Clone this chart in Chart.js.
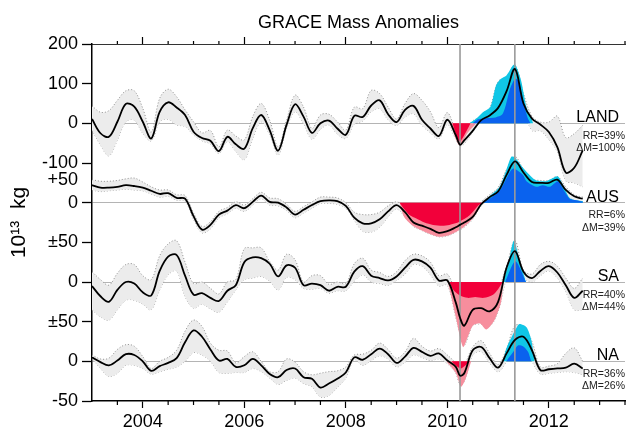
<!DOCTYPE html>
<html><head><meta charset="utf-8">
<script src="https://cdn.jsdelivr.net/npm/chart.js@4.4.1/dist/chart.umd.min.js"></script>
<style>html,body{margin:0;padding:0;background:#fff}</style>
</head><body>
<canvas id="c" width="628" height="431"></canvas>
<script>
// ---- sample dates (decimal years) ----
const dates = [2003.000,2003.167,2003.333,2003.500,2003.667,2003.833,
 2004.000,2004.167,2004.333,2004.500,2004.667,2004.833,
 2005.000,2005.167,2005.333,2005.500,2005.667,2005.833,
 2006.000,2006.167,2006.333,2006.500,2006.667,2006.833,
 2007.000,2007.167,2007.333,2007.500,2007.667,2007.833,
 2008.000,2008.167,2008.333,2008.500,2008.667,2008.833,
 2009.000,2009.167,2009.333,2009.500,2009.667,2009.833,
 2010.000,2010.167,2010.250,2010.333,2010.500,2010.667,2010.833,
 2011.000,2011.167,2011.333,2011.500,2011.667,2011.833,
 2012.000,2012.167,2012.333,2012.500,2012.667];

// ---- LAND (10^13 kg) ----
const landLine = [11,-25,-34,4,49,42,4,-38,29,53,40,21,-21,-37,-44,-70,-34,-53,-64,-12,21,-17,-69,-4,48,17,-24,0,7,-13,-29,19,
 16,45,58,23,3,34,44,9,-13,-32,9,-30,-54,-43,-19,8,20,39,81,137,50,12,-3,-22,-60,-124,-112,-68];
const landUpper = [44,28,32,58,82,82,38,-22,63,86,67,34,4,-24,-18,-59,-17,-32,-42,17,50,8,-59,8,71,41,-13,21,23,4,-17,41,
 37,83,75,41,11,50,75,58,29,-11,27,-22,-45,-29,6,16,38,105,118,146,75,18,3,3,18,-36,-26,-5];
const landLower = [-17,-55,-82,-42,4,8,-25,-44,4,10,-4,-8,-29,-44,-52,-76,-46,-71,-92,-38,4,-29,-80,-13,29,-1,-40,-15,-4,-27,-38,-2,
 6,29,37,9,-5,16,24,-5,-24,-39,-3,-40,-56,-52,-22,5,12,20,54,113,40,-18,-19,-41,-72,-145,-150,-160];
const landRed  = [[2010.10,0],[2010.24,-46],[2010.46,0]];
const landPink = [[2010.06,0],[2010.24,-56],[2010.40,-24],[2010.57,0]];
const landCyan = [[2010.43,0],[2010.57,12],[2010.70,28],[2010.85,42],[2010.96,96],[2011.05,112],[2011.16,120],[2011.29,146],[2011.34,148],[2011.45,110],[2011.56,40],[2011.65,14],[2011.69,0]];
const landBlue = [[2010.50,0],[2010.60,10],[2010.75,13],[2010.95,15],[2011.08,22],[2011.15,45],[2011.23,85],[2011.33,112],[2011.40,108],[2011.50,55],[2011.58,15],[2011.64,0]];

// ---- AUS ----
const ausLine = [22,19,19,20,22,21,19,15,11,12,6,5,-17,-34,-28,-15,-10,-3,-7,1,9,1,0,-6,-15,-9,-3,2,3,2,-4,-19,
 -26,-26,-21,-11,-3,-12,-25,-29,-33,-38,-36,-31,-28,-25,-18,-2,7,14,35,52,38,26,25,25,29,16,8,5];
const ausUpper = [29,27,27,28,30,31,26,20,16,16,10,9,-13,-30,-24,-11,-6,1,-3,5,13,6,5,-2,-11,-5,1,7,7,6,0,-12,
 -15,-15,-12,-4,1,-6,-19,-22,-26,-29,-28,-25,-23,-21,-14,1,10,19,42,58,42,30,28,28,33,20,10,7];
const ausLower = [16,14,15,16,17,16,15,11,7,8,3,2,-21,-38,-33,-19,-14,-7,-11,-3,5,-3,-4,-10,-19,-13,-7,-1,-1,-2,-7,-22,
 -36,-37,-31,-18,-8,-18,-30,-35,-40,-43,-42,-37,-34,-31,-21,-4,4,11,28,40,30,22,20,20,27,12,3,1];
const ausRed  = [[2009.06,0],[2009.15,-8],[2009.26,-16],[2009.39,-20],[2009.55,-25],[2009.72,-28],[2009.90,-29],[2010.04,-28],[2010.24,-24],[2010.44,-16],[2010.62,-3],[2010.70,0]];
const ausPink = [[2009.06,0],[2009.15,-18],[2009.30,-28],[2009.50,-35],[2009.72,-41],[2009.85,-43],[2010.04,-41],[2010.30,-32],[2010.50,-20],[2010.66,-3],[2010.70,0]];
const ausCyan = [[2010.70,0],[2010.83,8],[2011.03,20],[2011.16,41],[2011.26,58],[2011.33,57],[2011.49,44],[2011.65,33],[2011.75,28],[2011.95,27],[2012.05,30],[2012.18,33],[2012.31,18],[2012.41,6],[2012.54,3],[2012.67,2]];
const ausBlue = [[2010.70,0],[2010.83,5],[2011.03,15],[2011.20,35],[2011.30,43],[2011.49,35],[2011.56,27],[2011.75,20],[2011.88,22],[2012.02,20],[2012.18,27],[2012.31,14],[2012.41,5],[2012.54,3],[2012.67,1]];

// ---- SA ----
const saLine = [-5,-18,-25,-10,0,-2,-13,-17,14,32,34,8,-16,-14,-20,-24,-11,-4,25,31,30,23,7,21,18,-4,-2,-4,-11,-6,-6,13,
 20,8,5,2,7,18,28,26,18,2,2,-26,-45,-55,-35,-33,-37,-25,18,39,13,5,14,20,12,-4,-20,-11];
const saUpper = [13,3,-4,11,22,22,8,3,33,48,52,25,-2,0,-8,-15,0,3,42,43,43,26,15,35,28,0,8,8,-3,0,-2,23,
 30,15,12,7,13,27,35,33,25,8,10,-12,-16,-18,-17,-18,-15,-8,20,52,15,10,22,26,20,5,-8,5];
const saLower = [-35,-44,-48,-35,-23,-23,-28,-35,-10,9,14,-18,-33,-28,-34,-38,-25,-10,3,5,7,1,-10,6,3,-8,-9,-8,-14,-11,-11,1,
 9,0,-2,-4,2,10,22,20,9,-5,-4,-45,-65,-80,-55,-53,-56,-37,5,26,6,0,8,14,5,-12,-35,-35];
const saRed  = [[2010.04,0],[2010.12,-10],[2010.25,-17],[2010.40,-20],[2010.55,-19],[2010.72,-20],[2010.90,-16],[2011.00,-9],[2011.09,0]];
const saPink = [[2010.01,0],[2010.17,-45],[2010.31,-82],[2010.41,-68],[2010.50,-55],[2010.64,-52],[2010.77,-60],[2010.93,-48],[2011.06,-25],[2011.10,0]];
const saCyan = [[2011.10,0],[2011.20,22],[2011.31,52],[2011.42,28],[2011.55,0]];
const saBlue = [[2011.14,0],[2011.34,26],[2011.55,0]];

// ---- NA ----
const naLine = [5,-1,-5,1,9,8,0,-12,-6,-2,4,24,39,31,15,1,3,-7,-5,3,-5,-16,-20,-11,-9,-20,-22,-33,-28,-22,-14,5,
 2,9,16,9,-2,6,17,12,7,10,1,-7,-18,-15,14,18,4,-8,10,27,31,14,-11,-10,-9,-8,-3,-9];
const naUpper = [8,3,4,15,21,19,6,-9,0,5,14,38,52,44,23,14,13,-2,6,12,0,-13,-13,3,-1,-13,-17,-15,-13,-12,-7,8,
 9,14,23,15,4,12,29,19,13,16,8,-2,-8,-5,18,26,10,-4,16,45,44,25,-7,-6,-3,10,17,0];
const naLower = [4,-9,-19,-15,-5,-5,-9,-16,-13,-10,-7,0,11,8,0,-14,-15,-14,-14,-9,-13,-21,-29,-24,-21,-28,-32,-45,-43,-33,-21,2,
 -5,1,7,3,-7,-1,8,5,1,3,-3,-15,-30,-26,8,12,-2,-13,0,19,17,0,-16,-15,-14,-13,-14,-17];
const naRed  = [[2010.08,0],[2010.18,-6],[2010.27,-9],[2010.45,0]];
const naPink = [[2009.98,0],[2010.17,-15],[2010.27,-32],[2010.36,-22],[2010.47,0]];
const naCyan = [[2011.10,0],[2011.16,16],[2011.36,42],[2011.42,47],[2011.56,43],[2011.65,28],[2011.72,0]];
const naBlue = [[2011.16,0],[2011.29,11],[2011.39,20],[2011.49,19],[2011.59,12],[2011.65,0]];

// ---- annotations / ticks ----
const panelNames = ['LAND','AUS','SA','NA'];
const rrTexts = ['RR=39%','RR=6%','RR=40%','RR=36%'];
const dmTexts = ['\u0394M=100%','\u0394M=39%','\u0394M=44%','\u0394M=26%'];
const eventLines = [2010.25, 2011.33];
const xTickVals = [2003,2003.5,2004,2004.5,2005,2005.5,2006,2006.5,2007,2007.5,2008,2008.5,2009,2009.5,2010,2010.5,2011,2011.5,2012,2012.5,2013,2013.5];
const xLabelYears = [2004,2006,2008,2010,2012];
const yTickVals = [0,1,2,3,4,5,5.57,6,7,8,9];
const yTickLabels = ['-50','0','\u00b150','0','\u00b150','0','+50','-100','0','100','200'];

// panel stacking (offset in axis steps, units per step)
const panels = [
  {off:7, per:100, line:landLine, up:landUpper, lo:landLower, red:landRed, pink:landPink, cyan:landCyan, blue:landBlue},
  {off:5, per:50, line:ausLine, up:ausUpper, lo:ausLower, red:ausRed, pink:ausPink, cyan:ausCyan, blue:ausBlue},
  {off:3, per:50, line:saLine, up:saUpper, lo:saLower, red:saRed, pink:saPink, cyan:saCyan, blue:saBlue},
  {off:1, per:50, line:naLine, up:naUpper, lo:naLower, red:naRed, pink:naPink, cyan:naCyan, blue:naBlue}
];
const zeroTicks = panels.map(p => p.off);

const COLORS = {band:'#ececec', dots:'#858585', red:'#f2003a', pink:'#f78e9d', cyan:'#10c6e6', blue:'#0a62ee'};
const FONT = '"Liberation Sans", Arial, Helvetica, sans-serif';

const datasets = [];
panels.forEach(p => {
  const tf = v => p.off + v / p.per;
  const series = arr => dates.map((d, i) => ({x: d, y: tf(arr[i])}));
  const pairs = arr => arr.map(([d, v]) => ({x: d, y: tf(v)}));
  datasets.push({data: series(p.up), borderColor: COLORS.dots, borderWidth: 0.9, borderDash: [1, 2],
    fill: '+1', backgroundColor: COLORS.band, order: 50, tension: 0.35});
  datasets.push({data: series(p.lo), borderColor: COLORS.dots, borderWidth: 0.9, borderDash: [1, 2],
    fill: false, order: 50, tension: 0.35});
  datasets.push({data: pairs(p.pink), borderWidth: 0, borderColor: 'rgba(0,0,0,0)', fill: {value: p.off}, backgroundColor: COLORS.pink, order: 40, tension: 0.25});
  datasets.push({data: pairs(p.red), borderWidth: 0, borderColor: 'rgba(0,0,0,0)', fill: {value: p.off}, backgroundColor: COLORS.red, order: 39, tension: 0.25});
  datasets.push({data: pairs(p.cyan), borderWidth: 0, borderColor: 'rgba(0,0,0,0)', fill: {value: p.off}, backgroundColor: COLORS.cyan, order: 40, tension: 0.25});
  datasets.push({data: pairs(p.blue), borderWidth: 0, borderColor: 'rgba(0,0,0,0)', fill: {value: p.off}, backgroundColor: COLORS.blue, order: 39, tension: 0.25});
  datasets.push({data: series(p.line), borderColor: '#000', borderWidth: 1.8, fill: false, order: 10, tension: 0.35});
});
eventLines.forEach(d => {
  datasets.push({data: [{x: d, y: 0}, {x: d, y: 9}], borderColor: '#9a9a9a', borderWidth: 1.6, fill: false, order: 15});
});

const minorTicks = {
  id: 'minorTicks',
  afterDraw(chart) {
    const {ctx, chartArea, scales: {x}} = chart;
    ctx.save();
    ctx.strokeStyle = '#000';
    ctx.lineWidth = 1.2;
    xTickVals.filter(v => !xLabelYears.includes(v) && v > 2003).forEach(v => {
      const px = x.getPixelForValue(v);
      ctx.beginPath();
      ctx.moveTo(px, chartArea.bottom); ctx.lineTo(px, chartArea.bottom + 4);
      ctx.moveTo(px, chartArea.top); ctx.lineTo(px, chartArea.top - 3);
      ctx.stroke();
    });
    ctx.restore();
  }
};

const panelLabels = {
  id: 'panelLabels',
  afterDraw(chart) {
    const {ctx, chartArea, scales: {y}} = chart;
    ctx.save();
    ctx.textAlign = 'right';
    ctx.textBaseline = 'alphabetic';
    panels.forEach((p, i) => {
      const yz = y.getPixelForValue(p.off);
      ctx.fillStyle = '#000';
      ctx.font = '16px ' + FONT;
      ctx.fillText(panelNames[i], chartArea.right - 6, yz - 1);
      ctx.fillStyle = '#222';
      ctx.font = '10.5px ' + FONT;
      ctx.fillText(rrTexts[i], chartArea.right, yz + 15.5);
      ctx.fillText(dmTexts[i], chartArea.right, yz + 28);
    });
    ctx.restore();
  }
};

const xTickCommon = {
  type: 'linear', min: 2003, max: 2013.5,
  afterBuildTicks: s => { s.ticks = xTickVals.map(v => ({value: v})); }
};

new Chart(document.getElementById('c'), {
  type: 'line',
  data: {datasets},
  options: {
    responsive: false, animation: false, devicePixelRatio: 1,
    layout: {padding: {left: 0, right: 2, top: 0, bottom: 0}},
    elements: {point: {radius: 0, hoverRadius: 0}},
    plugins: {
      legend: {display: false},
      tooltip: {enabled: false},
      title: {display: true, text: 'GRACE Mass Anomalies', fullSize: false, color: '#000',
        font: {family: FONT, size: 18, weight: 'normal'}, padding: {top: 12.5, bottom: 2.9}}
    },
    scales: {
      x: Object.assign({}, xTickCommon, {
        position: 'bottom',
        afterFit: s => { s.height = 30; },
        border: {display: true, color: '#000', width: 1.5},
        grid: {drawOnChartArea: false, drawTicks: true, tickLength: 7,
          tickColor: c => (c.tick && xLabelYears.includes(c.tick.value)) ? '#000' : 'rgba(0,0,0,0)', tickWidth: 1.2},
        ticks: {autoSkip: false, maxRotation: 0, padding: 3, color: '#000',
          font: {family: FONT, size: 18},
          callback: v => xLabelYears.includes(v) ? String(v) : ''}
      }),
      x2: Object.assign({}, xTickCommon, {
        position: 'top',
        afterFit: s => { s.height = 7; },
        border: {display: true, color: '#333', width: 1},
        grid: {drawOnChartArea: false, drawTicks: true, tickLength: 7,
          tickColor: c => (c.tick && xLabelYears.includes(c.tick.value)) ? '#000' : 'rgba(0,0,0,0)', tickWidth: 1.2},
        ticks: {display: false}
      }),
      y: {
        type: 'linear', position: 'left', min: 0, max: 9,
        afterBuildTicks: s => { s.ticks = yTickVals.map(v => ({value: v})); },
        afterFit: s => { s.width = 92; },
        border: {display: true, color: '#000', width: 1.5},
        grid: {drawOnChartArea: true, drawTicks: true, tickLength: 10, lineWidth: 1,
          color: c => (c.tick && zeroTicks.includes(c.tick.value)) ? '#b4b4b4' : 'rgba(0,0,0,0)',
          tickColor: c => (c.tick && c.tick.value === 5.57) ? 'rgba(0,0,0,0)' : '#000', tickWidth: 1.3},
        ticks: {autoSkip: false, padding: 4, color: '#000', font: {family: FONT, size: 18},
          callback: (v, i) => yTickLabels[i]},
        title: {display: true, text: '10\u00b9\u00b3  kg', color: '#000',
          font: {family: FONT, size: 21}, padding: {top: 7, bottom: 0}}
      }
    }
  },
  plugins: [minorTicks, panelLabels]
});
</script>
</body></html>
